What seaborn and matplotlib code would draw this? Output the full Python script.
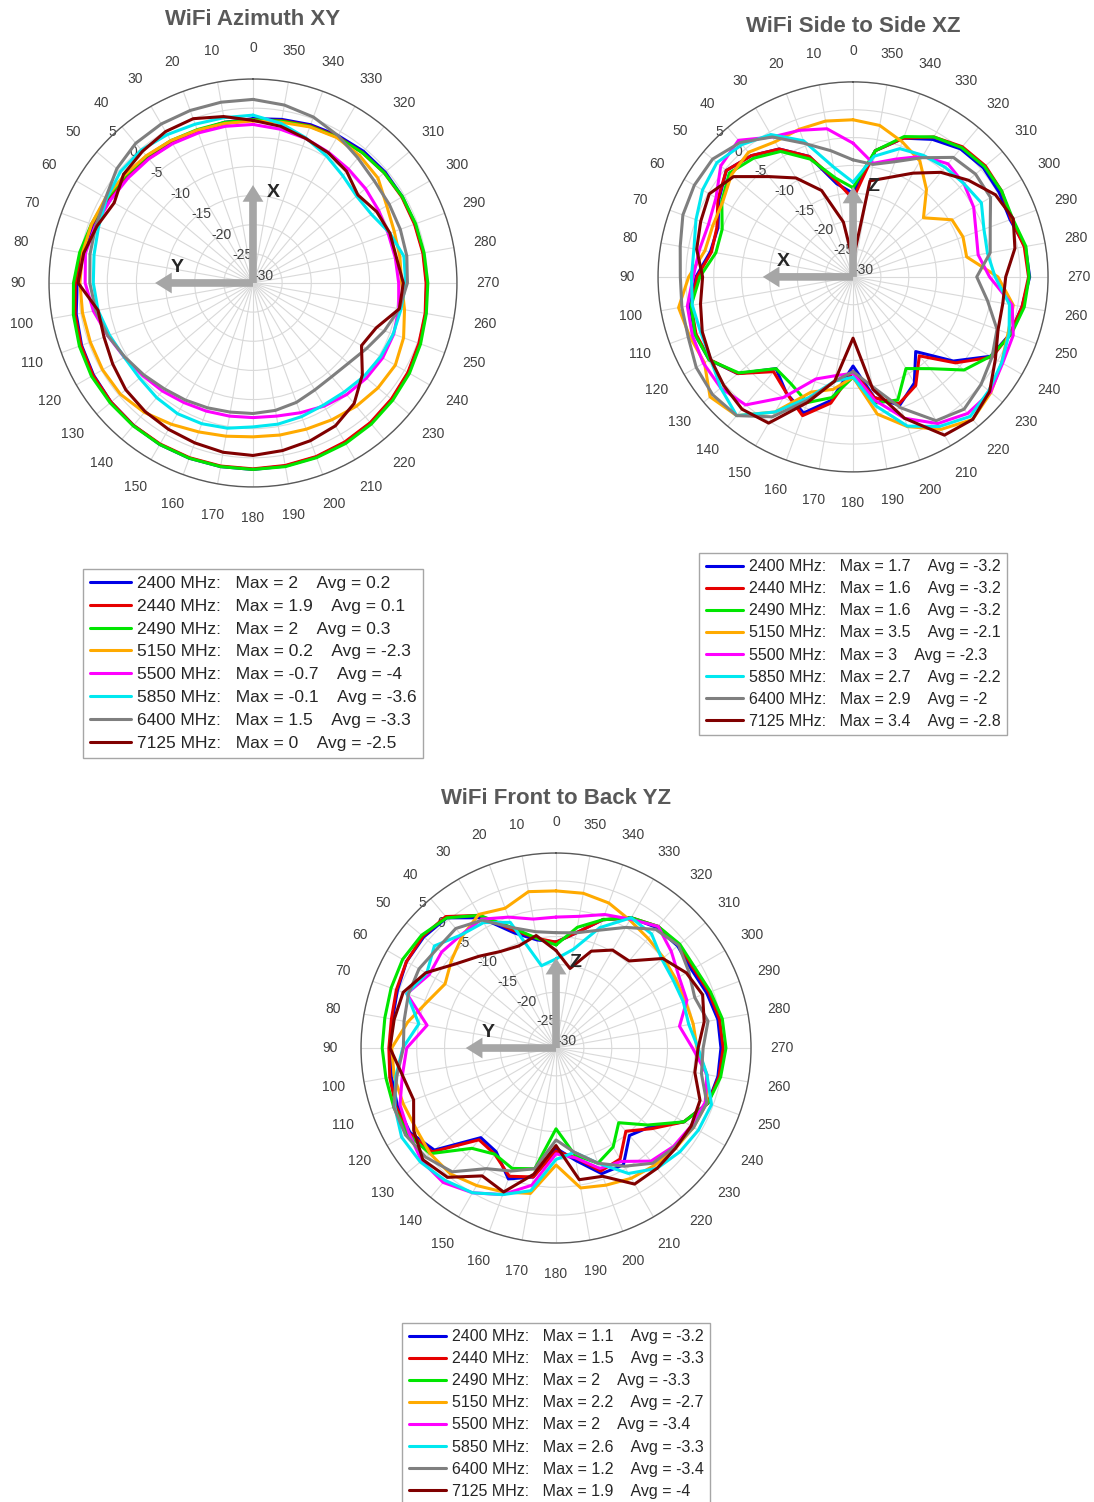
import numpy as np
import pandas as pd
import matplotlib
matplotlib.use('Agg')
import matplotlib.pyplot as plt
import seaborn as sns

sns.set_style('white')
plt.rcParams['font.family'] = ['Liberation Sans', 'DejaVu Sans']

# measurement angles (deg), 0 at top, counter-clockwise
angles = np.arange(0, 360, 10)

freqs = ['2400', '2440', '2490', '5150', '5500', '5850', '6400', '7125']
colors = ['#0000e6', '#e60000', '#00e600', '#ffaa00', '#ff00ff', '#00e8f0', '#7f7f7f', '#800000']

# ---- WiFi Azimuth XY (dBi) ----
xy_2400 = [-1.8, -2.0, -2.2, -2.2, -2.0, -1.8, -1.4, -1.0, -0.4, 0.2, 0.8, 1.3, 1.6, 1.8, 1.9, 2.0, 2.0, 2.0,
           2.0, 1.9, 1.8, 1.6, 1.4, 1.1, 0.8, 0.4, 0.1, -0.2, -0.3, -0.4, -0.4, -0.4, -0.5, -0.8, -1.1, -1.5]
xy_2440 = [-2.0, -2.2, -2.3, -2.3, -2.1, -1.8, -1.2, -0.6, 0.0, 0.5, 1.0, 1.4, 1.7, 1.8, 1.9, 1.9, 1.9, 1.9,
           1.9, 1.8, 1.7, 1.5, 1.3, 1.0, 0.7, 0.3, 0.0, -0.3, -0.4, -0.5, -0.5, -0.6, -0.8, -1.0, -1.3, -1.7]
xy_2490 = [-2.0, -2.0, -2.0, -1.8, -1.6, -1.4, -1.0, -0.5, 0.2, 0.8, 1.3, 1.7, 2.0, 2.0, 2.0, 2.0, 2.0, 2.0,
           2.0, 2.0, 1.9, 1.8, 1.6, 1.3, 1.0, 0.6, 0.2, 0.0, -0.2, -0.3, -0.4, -0.6, -0.8, -1.1, -1.4, -1.8]
xy_5150 = [-2.2, -2.2, -2.1, -1.8, -1.5, -1.2, -0.8, -0.5, -0.3, -0.3, -0.3, -0.3, -0.2, -0.3, -1.0, -2.0, -2.8, -3.3,
           -3.6, -3.5, -3.3, -2.9, -2.4, -2.0, -1.8, -2.5, -3.6, -4.5, -4.4, -4.2, -3.5, -2.0, -1.5, -1.2, -1.5, -2.0]
xy_5500 = [-2.8, -2.7, -2.6, -2.4, -2.2, -2.0, -1.7, -1.2, -0.8, -1.2, -2.2, -3.5, -4.5, -5.3, -5.8, -6.3, -6.6, -6.8,
           -6.9, -6.8, -6.3, -5.6, -5.0, -4.6, -4.3, -4.3, -4.6, -5.0, -5.2, -5.3, -5.1, -4.8, -4.5, -4.1, -3.6, -3.2]
xy_5850 = [-1.2, -1.2, -1.0, -0.6, -0.2, -0.3, -1.0, -1.8, -2.3, -2.6, -3.0, -3.8, -4.5, -4.6, -4.3, -4.1, -4.3, -4.7,
           -5.3, -5.4, -5.6, -5.8, -5.6, -5.1, -4.7, -4.4, -4.2, -3.8, -3.7, -5.0, -6.5, -6.8, -6.0, -4.8, -3.5, -2.2]
xy_6400 = [1.5, 1.5, 1.5, 1.5, 1.3, 0.5, -0.8, -1.3, -1.6, -2.0, -2.6, -3.5, -4.6, -5.5, -6.3, -6.8, -7.2, -7.5,
           -7.6, -7.8, -8.2, -8.8, -9.0, -8.6, -7.5, -6.0, -4.5, -3.5, -3.2, -3.1, -3.0, -2.8, -2.0, -0.8, 0.3, 1.0]
xy_7125 = [-2.1, -1.0, 0.0, 0.0, -0.5, -1.0, -2.5, -1.5, -0.5, 0.0, -3.0, -2.8, -2.2, -1.5, -1.2, -1.0, -0.8, -0.5,
           -0.4, -0.8, -1.2, -1.7, -3.0, -5.5, -8.5, -7.5, -4.5, -4.2, -5.0, -5.0, -5.5, -6.5, -5.0, -4.2, -3.6, -2.7]
xy_max = [2, 1.9, 2, 0.2, -0.7, -0.1, 1.5, 0]
xy_avg = [0.2, 0.1, 0.3, -2.3, -4, -3.6, -3.3, -2.5]

# ---- WiFi Side to Side XZ (dBi) ----
xz_2400 = [-15, -13, -7, -3.5, -1.6, -0.3, -2.2, -4.2, -4.0, -1.8, -0.3, 0.2, -0.2, -3.0, -8.5, -6.0, -4.0, -7.5,
           -14, -8.0, -5.5, -8.0, -12.5, -6.5, -1.5, 0.0, 0.8, 1.7, 1.4, 0.0, 0.3, 0.5, 0.0, -1.5, -3.5, -7.0]
xz_2440 = [-16, -12.5, -7, -3.5, -1.6, -0.3, -2.0, -4.0, -4.2, -2.0, -0.5, 0.0, -0.3, -3.0, -7.8, -6.0, -3.5, -7.0,
           -13, -8.0, -5.8, -7.5, -11.5, -6.0, -1.2, 0.0, 0.8, 1.5, 1.2, 0.2, 0.8, 1.0, 0.5, -1.0, -3.5, -7.0]
xz_2490 = [-14, -12, -7.5, -4.0, -2.2, -1.0, -2.8, -5.0, -5.0, -2.5, -0.5, 0.2, -0.2, -3.2, -8.5, -7.8, -6.0, -8.0,
           -12, -7.0, -6.5, -11, -8.5, -4.0, -1.5, 0.2, 1.2, 1.6, 1.5, 0.5, 0.8, 0.8, 0.3, -1.0, -3.2, -7.0]
xz_5150 = [-1.8, -1.6, -1.8, -2.0, -0.8, -1.5, -3.0, -3.2, -3.0, -0.5, 1.8, 1.2, 0.8, 3.5, 2.5, -2.0, -8.0, -9.5,
           -12, -5.0, -1.4, 1.6, 3.4, 2.3, 0.8, -0.4, -0.8, -4.0, -9.3, -9.0, -9.5, -13.5, -9.5, -6.0, -4.2, -2.4]
xz_5500 = [-6.0, -3.0, -2.0, -1.0, 2.0, 1.0, -1.6, -2.4, -2.0, -1.3, 0.2, 0.7, 1.0, 1.0, 0.0, -5.0, -10.5, -12,
           -12.7, -7.5, -3.0, 0.4, 2.0, 2.2, 1.0, 0.6, -1.0, -5.5, -7.2, -6.5, -5.0, -4.0, -3.5, -5.0, -7.5, -9.3]
xz_5850 = [-13, -10, -4.0, -0.5, 1.0, 1.9, 1.2, 0.0, -1.0, -1.0, -0.7, -0.9, -0.5, 1.0, 2.5, -2.0, -7.0, -11,
           -12, -6.5, -1.5, 1.0, 2.7, 1.8, 0.8, -0.2, -1.5, -4.5, -5.5, -5.0, -3.4, -4.0, -4.3, -4.8, -5.5, -8.0]
xz_6400 = [-9, -7, -4.5, -1, 1.5, 2.9, 2.9, 2.5, 1.5, 1.0, 1.2, 1.5, 2.5, 2.9, 2.5, -1.0, -6.5, -11,
           -13, -10, -5.0, -0.2, 1.0, 0.0, -1.2, -2.5, -5.5, -7.8, -5.0, -3.8, -1.5, -1.3, -2.0, -5.3, -8.0, -9.5]
xz_7125 = [-27, -20, -13.5, -9.5, -6.5, -2.0, -0.2, -0.9, -1.5, -3.0, -2.2, -1.2, -0.5, 0.3, 1.0, 0.3, -6.0, -11,
           -19, -9.5, -3.0, 2.8, 3.4, 2.0, -0.5, -2.3, -2.7, -2.6, -0.5, 0.6, -0.5, -3.0, -5.5, -8.5, -11, -12.5]
xz_max = [1.7, 1.6, 1.6, 3.5, 3, 2.7, 2.9, 3.4]
xz_avg = [-3.2, -3.2, -3.2, -2.1, -2.3, -2.2, -2, -2.8]

# ---- WiFi Front to Back YZ (dBi) ----
yz_2400 = [-11, -10.3, -8, -3, 0.5, 1.0, 1.0, 0.3, -0.2, -0.2, 0.0, 0.3, 0.3, -1.5, -9.0, -8.5, -5.0, -6.5,
           -12, -9.5, -6.0, -5.8, -9.5, -8.0, -3.5, -1.0, -0.5, -0.4, -0.5, -1.2, -1.9, -1.5, -1.8, -3.0, -5.5, -9.0]
yz_2440 = [-11, -10, -7.5, -2.5, 0.8, 1.2, 1.0, 0.5, 0.0, 0.0, 0.3, 0.6, 0.5, -1.0, -8.5, -8.0, -5.5, -6.5,
           -11.5, -10, -6.5, -7.0, -10.5, -7.5, -3.5, -1.0, -0.3, 0.0, -0.2, -0.8, -1.5, -1.2, -1.5, -3.0, -5.5, -9.0]
yz_2490 = [-11.5, -10, -7, -2.5, 0.5, 1.5, 1.8, 1.5, 1.2, 1.2, 1.0, 1.0, 0.8, -0.5, -6.5, -8.0, -7.0, -8.0,
           -15.5, -10.5, -8.0, -9.5, -12.5, -8.5, -3.5, -1.0, 0.0, 0.5, 0.3, -0.5, -1.2, -1.0, -1.5, -3.0, -5.5, -8.0]
yz_5150 = [-1.8, -1.5, -3.3, -2.3, -3.8, -5.5, -7.0, -5.5, -3.0, -0.5, -0.5, -0.8, -1.0, -0.5, -0.5, -1.5, -2.5, -3.5,
           -9.0, -4.5, -3.8, -3.0, -2.5, -2.0, -1.5, -1.2, -2.5, -4.7, -5.0, -5.3, -5.2, -4.8, -4.3, -3.5, -2.3, -1.8]
yz_5500 = [-6.5, -6.5, -5.0, -3.3, -3.5, -3.2, -3.7, -1.5, -6.5, -3.2, -2.0, -0.2, 0.5, 1.5, 1.5, 0.0, -2.0, -5.0,
           -11, -10, -7.0, -6.5, -3.5, -2.5, -2.0, -1.5, -2.5, -5.5, -7.5, -5.0, -4.5, -3.0, -1.5, -3.3, -4.5, -6.0]
yz_5850 = [-14, -15, -6, -4, -3.5, -1.5, -3.2, -1.5, -5.0, -2.5, -0.8, 0.8, 2.0, 1.8, 1.0, 0.0, -2.0, -4.0,
           -10, -11, -8.0, -4.0, -1.8, -1.0, -0.5, -0.3, -2.5, -4.5, -5.8, -5.7, -5.7, -5.2, -3.3, -3.0, -7.0, -12]
yz_6400 = [-9.3, -8.8, -7.0, -3.5, -2.0, -2.2, -1.6, -1.8, -2.3, -2.6, -1.0, 1.0, 1.2, 0.5, -1.0, -5.0, -6.5, -8.0,
           -13.5, -11, -8.0, -5.5, -3.0, -2.3, -1.5, -1.2, -3.5, -3.6, -2.3, -3.5, -2.5, -1.3, -2.2, -5.0, -7.5, -9.0]
yz_7125 = [-12.5, -9.5, -10.5, -10, -8.5, -6.5, -3.0, -0.8, -0.5, -0.2, -2.0, -2.8, -0.5, 1.2, 0.3, -3.5, -2.5, -7.0,
           -12.5, -6.0, -5.5, -1.8, -1.8, -2.0, -2.0, -2.5, -4.7, -4.5, -3.0, -2.0, -3.0, -5.0, -9.6, -9.7, -11.5, -15.5]
yz_max = [1.1, 1.5, 2, 2.2, 2, 2.6, 1.2, 1.9]
yz_avg = [-3.2, -3.3, -3.3, -2.7, -3.4, -3.3, -3.4, -4]


def build_frame(series, maxs, avgs):
    parts = []
    for f, vals, m, a in zip(freqs, series, maxs, avgs):
        label = f'{f} MHz:   Max = {m:g}    Avg = {a:g}'
        theta = np.deg2rad(np.append(angles, 360))
        gain = np.append(vals, vals[0])
        parts.append(pd.DataFrame({'theta': theta, 'gain': gain, 'label': label}))
    return pd.concat(parts, ignore_index=True)


def draw_panel(ax, df, title, up_name, left_name, title_y, legend_y, arrow_r, up_off, left_off,
               leg_size, leg_spacing):
    sns.lineplot(data=df, x='theta', y='gain', hue='label', palette=colors,
                 sort=False, estimator=None, linewidth=2.2, ax=ax)
    ax.set_theta_zero_location('N')
    ax.set_theta_direction(1)
    ax.set_ylim(-30, 5)
    ax.set_yticks(range(-30, 6, 5))
    ax.set_yticklabels([str(v) for v in range(-30, 6, 5)])
    ax.set_rlabel_position(45)
    ax.set_xticks(np.deg2rad(np.arange(0, 360, 10)))
    ax.set_xticklabels([str(v) for v in range(0, 360, 10)])
    ax.tick_params(axis='x', pad=15.5, size=0, labelsize=10, labelcolor='#404040')
    ax.tick_params(axis='y', labelsize=10, labelcolor='#404040')
    ax.grid(True, color='#d9d9d9', linewidth=0.8)
    ax.spines['polar'].set_color('#595959')
    ax.spines['polar'].set_linewidth(1.0)
    ax.set_xlabel('')
    ax.set_ylabel('')
    ax.set_title(title, y=title_y, pad=0, va='center', fontsize=16,
                 fontweight='bold', color='#595959')

    arrow = dict(facecolor='#a6a6a6', edgecolor='none', width=5.5,
                 headwidth=15, headlength=12, shrink=0)
    ax.annotate('', xy=(0, arrow_r), xytext=(0, -30), arrowprops=arrow, zorder=6)
    ax.annotate('', xy=(np.pi / 2, arrow_r), xytext=(0, -30), arrowprops=arrow, zorder=6)
    ax.annotate(up_name, xy=(0, arrow_r), xytext=up_off, textcoords='offset points',
                ha='center', va='center', fontsize=14, fontweight='bold', zorder=7)
    ax.annotate(left_name, xy=(np.pi / 2, arrow_r), xytext=left_off, textcoords='offset points',
                ha='center', va='center', fontsize=14, fontweight='bold', zorder=7)

    sns.move_legend(ax, 'upper center', bbox_to_anchor=(0.5, legend_y), title=None,
                    frameon=True, fontsize=leg_size, labelspacing=leg_spacing, handlelength=2.35,
                    handletextpad=0.35, borderpad=0.4, borderaxespad=0, fancybox=False,
                    edgecolor='#a6a6a6', framealpha=1, labelcolor='#262626')
    ax.get_legend().get_frame().set_linewidth(1.0)


df_xy = build_frame([xy_2400, xy_2440, xy_2490, xy_5150, xy_5500, xy_5850, xy_6400, xy_7125], xy_max, xy_avg)
df_xz = build_frame([xz_2400, xz_2440, xz_2490, xz_5150, xz_5500, xz_5850, xz_6400, xz_7125], xz_max, xz_avg)
df_yz = build_frame([yz_2400, yz_2440, yz_2490, yz_5150, yz_5500, yz_5850, yz_6400, yz_7125], yz_max, yz_avg)

fig = plt.figure(figsize=(10.94, 15.02), dpi=100)
ax1 = fig.add_axes([0.0448, 0.6758, 0.3729, 0.2716], projection='polar')
ax2 = fig.add_axes([0.6015, 0.6858, 0.3565, 0.2597], projection='polar')
ax3 = fig.add_axes([0.3300, 0.1724, 0.3565, 0.2597], projection='polar')

draw_panel(ax1, df_xy, 'WiFi Azimuth XY', 'X', 'Y', 1.147, -0.201, -13.2, (15, -5), (16, 11.5), 12.5, 0.44)
draw_panel(ax2, df_xz, 'WiFi Side to Side XZ', 'Z', 'X', 1.141, -0.208, -13.8, (14.5, 0), (15, 11), 11.5, 0.44)
draw_panel(ax3, df_yz, 'WiFi Front to Back YZ', 'Z', 'Y', 1.141, -0.205, -13.8, (13.7, -3.6), (16, 11), 11.5, 0.44)

fig.savefig('out.png', dpi=100)
